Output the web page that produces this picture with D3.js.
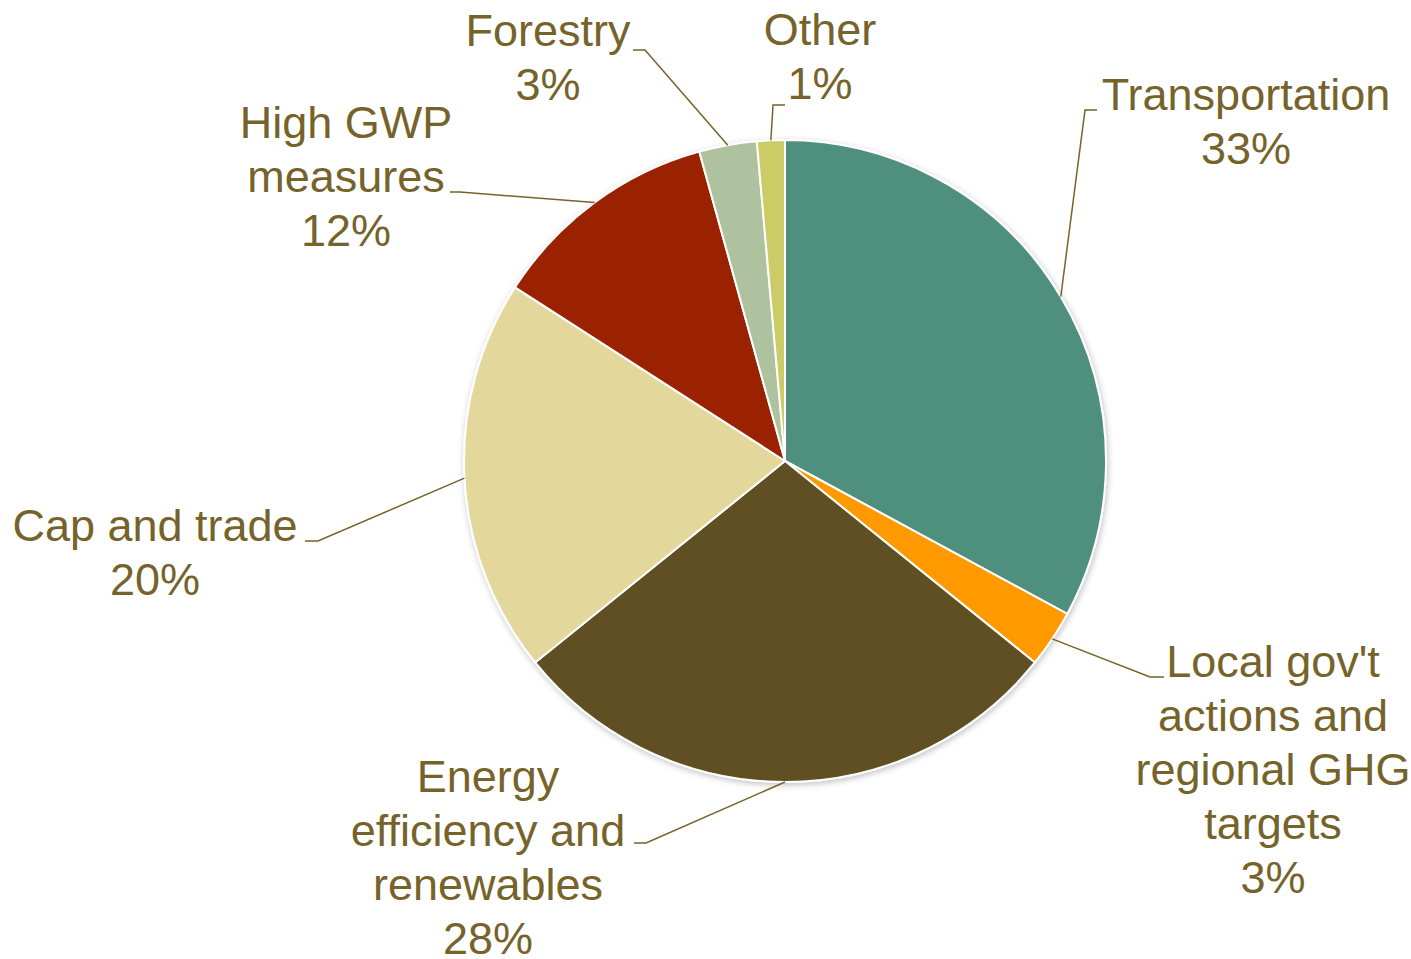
<!DOCTYPE html>
<html>
<head>
<meta charset="utf-8">
<script src="https://cdn.jsdelivr.net/npm/d3@7"></script>
<style>
  html, body { margin: 0; padding: 0; background: #fff; }
  svg { display: block; }
</style>
</head>
<body>
<svg id="chart" width="1411" height="959"></svg>
<script>
// ---- data ----
const categories = [
  "Transportation",
  "Local gov't actions and regional GHG targets",
  "Energy efficiency and renewables",
  "Cap and trade",
  "High GWP measures",
  "Forestry",
  "Other"
];
const values = [32.9, 2.9, 28.4, 19.9, 11.6, 2.9, 1.4];
const labelLines = [
  ["Transportation"],
  ["Local gov't", "actions and", "regional GHG", "targets"],
  ["Energy", "efficiency and", "renewables"],
  ["Cap and trade"],
  ["High GWP", "measures"],
  ["Forestry"],
  ["Other"]
];
const colors = ["#4F8F7E", "#FF9900", "#5E5020", "#E3D79B", "#9A2200", "#AFC29F", "#CCCC66"];

// ---- layout (label placement: centre x, first baseline y, leader elbow, leader end) ----
const labelLayout = [
  { cx: 1246, y: 110, elbow: [1085, 110], end: [1097, 110] },
  { cx: 1273, y: 677, elbow: [1150, 677], end: [1164, 677] },
  { cx: 488,  y: 792, elbow: [646, 843],  end: [634, 843] },
  { cx: 155,  y: 541, elbow: [318, 541],  end: [305, 541] },
  { cx: 346,  y: 138, elbow: [460, 192],  end: [450, 192] },
  { cx: 548,  y: 46,  elbow: [645, 50],   end: [633, 50] },
  { cx: 820,  y: 45,  elbow: [773, 105],  end: [785, 105] }
];

const W = 1411, H = 959;
const cx = 785, cy = 461, R = 321;
const lineH = 54;
const textColor = "#76632A";
const fontFam = "'Liberation Sans', Arial, sans-serif";
const fontSize = 45;

const svg = d3.select("#chart");
const defs = svg.append("defs");
const f = defs.append("filter").attr("id", "shadow")
  .attr("x", "-10%").attr("y", "-10%").attr("width", "120%").attr("height", "120%");
f.append("feDropShadow").attr("dx", 1).attr("dy", 2).attr("stdDeviation", 3)
  .attr("flood-color", "#000").attr("flood-opacity", 0.25);

const data = categories.map((c, i) => ({ name: c, value: values[i], i }));
const pie = d3.pie().value(d => d.value).sort(null);
const arcs = pie(data);
const arc = d3.arc().innerRadius(0).outerRadius(R);

const g = svg.append("g").attr("transform", `translate(${cx},${cy})`);
g.append("g").attr("filter", "url(#shadow)")
  .selectAll("path").data(arcs).join("path")
  .attr("d", arc)
  .attr("fill", d => colors[d.data.i])
  .attr("stroke", "#fff")
  .attr("stroke-width", 2)
  .attr("stroke-linejoin", "round");

// leader lines
const edgeArc = d3.arc().innerRadius(R).outerRadius(R);
const leaders = svg.append("g");
arcs.forEach(a => {
  const L = labelLayout[a.data.i];
  const p = edgeArc.centroid(a);
  const start = [p[0] + cx, p[1] + cy];
  leaders.append("polyline")
    .attr("points", [start, L.elbow, L.end].map(q => q.join(",")).join(" "))
    .attr("fill", "none")
    .attr("stroke", textColor)
    .attr("stroke-width", 1.5);
});

// labels
const labels = svg.append("g")
  .attr("font-family", fontFam)
  .attr("font-size", fontSize)
  .attr("fill", textColor)
  .attr("text-anchor", "middle");
arcs.forEach(a => {
  const i = a.data.i;
  const L = labelLayout[i];
  const pct = Math.round(a.data.value / d3.sum(values) * 100) + "%";
  const lines = labelLines[i].concat([pct]);
  const t = labels.append("text").attr("x", L.cx).attr("y", L.y);
  lines.forEach((ln, k) => {
    t.append("tspan").attr("x", L.cx).attr("y", L.y + k * lineH).text(ln);
  });
});
</script>
</body>
</html>
